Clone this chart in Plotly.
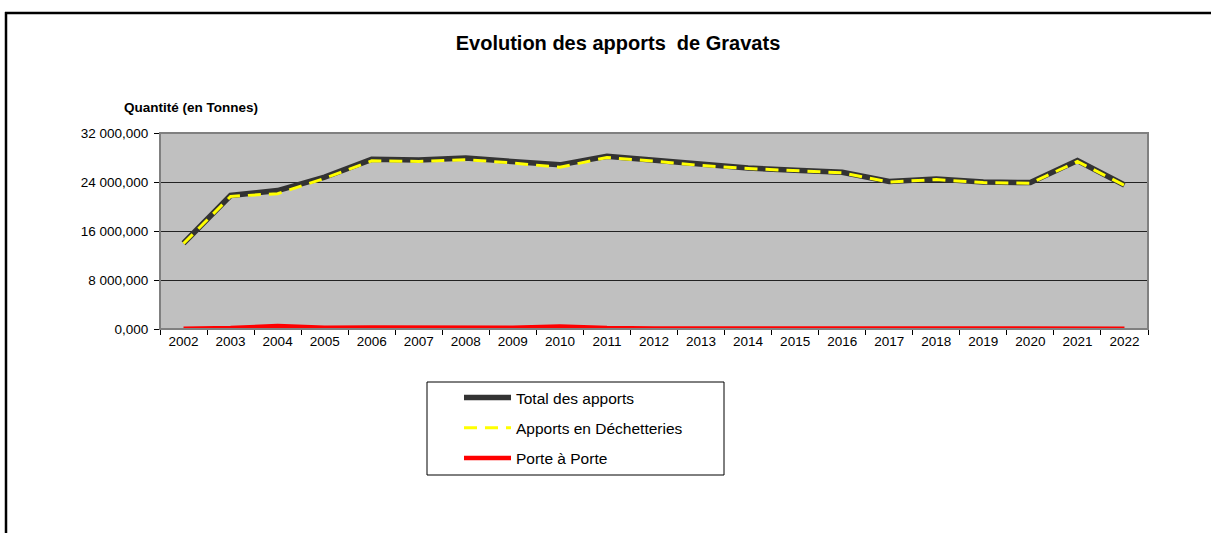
import plotly.graph_objects as go

years = [str(y) for y in range(2002, 2023)]
total = [14000, 21800, 22600, 24800, 27700, 27600, 27900, 27300, 26800, 28200, 27500,
         26800, 26300, 25900, 25600, 24100, 24500, 24000, 23900, 27500, 23500]
decheteries = [13950, 21650, 22100, 24600, 27450, 27350, 27650, 27100, 26400, 28000, 27400,
               26700, 26200, 25800, 25500, 24000, 24400, 23900, 23800, 27350, 23450]
porte_a_porte = [50, 150, 500, 200, 250, 250, 250, 200, 400, 150, 100,
                 100, 100, 100, 100, 100, 100, 100, 100, 150, 50]
y_tickvals = [0, 8000, 16000, 24000, 32000]
y_ticktext = ["0,000", "8 000,000", "16 000,000", "24 000,000", "32 000,000"]

FONT = "Arial, Liberation Sans, sans-serif"
W, H = 1211, 533
L, R, T, B = 160, 1211 - 1148, 133, 533 - 329
pw, ph = W - L - R, H - T - B

def px(x):
    return (x - L) / pw

def py(y):
    return (H - B - y) / ph

fig = go.Figure()
fig.add_trace(go.Scatter(x=years, y=total, mode="lines", name="Total des apports",
                         line=dict(color="#333333", width=5.5), legendgroup="a"))
fig.add_trace(go.Scatter(x=years, y=decheteries, mode="lines", name="Apports en Déchetteries",
                         line=dict(color="#FFFF00", width=3, dash="13px,8px"), legendgroup="b"))
fig.add_trace(go.Scatter(x=years, y=porte_a_porte, mode="lines", name="Porte à Porte",
                         line=dict(color="#FF0000", width=4.5), legendgroup="c"))

shapes = [
    dict(type="rect", xref="paper", yref="paper", x0=0, x1=1, y0=0, y1=1,
         line=dict(color="#808080", width=2), layer="above"),
    dict(type="line", xref="paper", yref="paper", x0=px(6), x1=px(6), y0=py(12), y1=py(560),
         line=dict(color="black", width=2.5)),
    dict(type="line", xref="paper", yref="paper", x0=px(5), x1=px(1230), y0=py(13), y1=py(13),
         line=dict(color="black", width=2.5)),
    dict(type="rect", xref="paper", yref="paper", x0=px(427), x1=px(724), y0=py(382), y1=py(475),
         line=dict(color="black", width=1)),
]

fig.update_layout(
    width=W, height=H,
    margin=dict(l=L, r=R, t=T, b=B),
    paper_bgcolor="white",
    plot_bgcolor="#C0C0C0",
    font=dict(family=FONT, size=13, color="black"),
    title=dict(text="Evolution des apports\u00a0 de Gravats", x=px(618), xref="paper",
               xanchor="center", y=1 - 43 / H, yanchor="middle",
               font=dict(family=FONT, size=20, color="black", weight="bold")),
    xaxis=dict(type="category", range=[-0.5, len(years) - 0.5], showgrid=False,
               showline=True, linecolor="black", linewidth=1,
               ticks="outside", tickson="boundaries", ticklen=5, tickcolor="black",
               tickfont=dict(size=13.5), fixedrange=True),
    yaxis=dict(range=[0, 32000], tickvals=y_tickvals, ticktext=y_ticktext,
               showgrid=True, gridcolor="#222222", gridwidth=1,
               showline=True, linecolor="black", linewidth=1, zeroline=False,
               ticks="outside", ticklen=5, tickcolor="black", tickfont=dict(size=13.5),
               ticklabelstandoff=3, fixedrange=True),
    showlegend=True,
    legend=dict(x=px(459), y=py(381), xanchor="left", yanchor="top",
                bgcolor="rgba(0,0,0,0)", borderwidth=0, tracegroupgap=7,
                font=dict(family=FONT, size=15.5, color="black"), itemwidth=47),
    shapes=shapes,
    annotations=[dict(text="<b>Quantité (en Tonnes)</b>", xref="paper", yref="paper",
                      x=px(191), y=py(108), xanchor="center", yanchor="middle",
                      showarrow=False, font=dict(family=FONT, size=13.5, color="black"))],
)

fig.write_html("out.html", config={"displayModeBar": False},
               post_script="document.body.style.margin='0';")
